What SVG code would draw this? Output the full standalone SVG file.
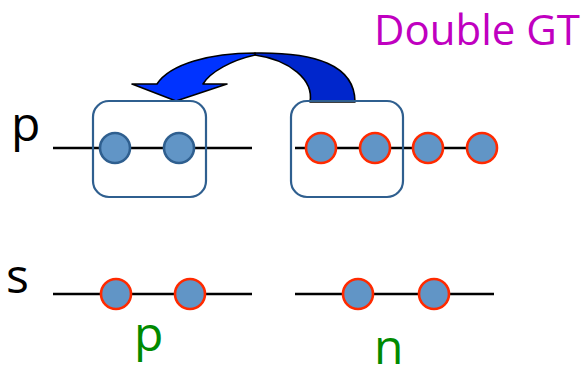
<svg xmlns="http://www.w3.org/2000/svg" width="588" height="366" viewBox="0 0 588 366">
  <style>
    .lbl { font-family: "Open Sans", "Noto Sans", sans-serif; font-size: 48px; }
    .wire { stroke: #000; stroke-width: 2.5; fill: none; }
    .box { fill: none; stroke: #2f5f8f; stroke-width: 2.2; }
    .dot { fill: #6195c6; stroke-width: 2.6; }
    .dot.blue { stroke: #2f5f8f; }
    .dot.red { stroke: #ff2a00; }
    .ribbon { stroke: #000; stroke-width: 1.6; stroke-linejoin: round; }
  </style>

  <rect width="588" height="366" fill="#fff"/>

  <!-- title -->
  <text x="374" y="45" font-family="'Open Sans', 'Noto Sans', sans-serif" font-size="42" fill="#c000c0">Double GT</text>

  <!-- row labels -->
  <text class="lbl" x="11" y="141" fill="#000">p</text>
  <text class="lbl" x="6" y="293" fill="#000">s</text>
  <text class="lbl" x="134" y="351" fill="#008a00">p</text>
  <text class="lbl" x="374" y="364" fill="#008a00">n</text>

  <!-- connectors: wires and the curved transfer arrow -->
  <g id="connectors">
    <line class="wire" x1="53" y1="148" x2="252" y2="148"/>
    <line class="wire" x1="295" y1="148" x2="482" y2="148"/>
    <line class="wire" x1="53" y1="294" x2="252" y2="294"/>
    <line class="wire" x1="295" y1="294" x2="494" y2="294"/>

    <g id="transfer-arrow">
      <!-- rear half of the ribbon -->
      <path class="ribbon" fill="#0026cc" d="M255,53 C315,52 355,65 355,102 L310,102 C314,80 290,60 255,55 Z"/>
      <!-- front half with the head -->
      <path class="ribbon" fill="#0033ff" d="M157,84 C170,64 210,53 255,53 L255,55 C232,60 210,72 203,84 L227,84 L176,101 L132,84 Z"/>
    </g>
  </g>

  <!-- p row, left group -->
  <g id="box-left">
    <rect class="box" x="93" y="101" width="113" height="96" rx="16"/>
  </g>
  <g id="p-left-1"><circle class="dot blue" cx="115" cy="148" r="15"/></g>
  <g id="p-left-2"><circle class="dot blue" cx="179" cy="148" r="15"/></g>

  <!-- p row, right group -->
  <g id="box-right">
    <rect class="box" x="291" y="101" width="112" height="96" rx="16"/>
  </g>
  <g id="p-right-1"><circle class="dot red" cx="321" cy="148" r="15"/></g>
  <g id="p-right-2"><circle class="dot red" cx="375" cy="148" r="15"/></g>
  <g id="p-right-3"><circle class="dot red" cx="428" cy="148" r="15"/></g>
  <g id="p-right-4"><circle class="dot red" cx="482" cy="148" r="15"/></g>

  <!-- s row -->
  <g id="s-p-1"><circle class="dot red" cx="116" cy="294" r="15"/></g>
  <g id="s-p-2"><circle class="dot red" cx="190" cy="294" r="15"/></g>
  <g id="s-n-1"><circle class="dot red" cx="358" cy="294" r="15"/></g>
  <g id="s-n-2"><circle class="dot red" cx="434" cy="294" r="15"/></g>
</svg>
